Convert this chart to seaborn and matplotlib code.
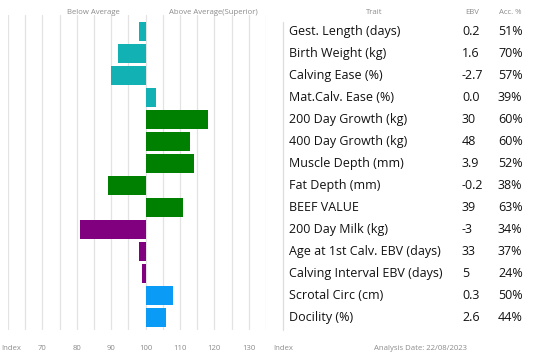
import numpy as np
import pandas as pd
import matplotlib
matplotlib.use("Agg")
import matplotlib.pyplot as plt
import matplotlib.transforms as mtransforms
import seaborn as sns

# Data
traits = ["Gest. Length (days)", "Birth Weight (kg)", "Calving Ease (%)", "Mat.Calv. Ease (%)",
          "200 Day Growth (kg)", "400 Day Growth (kg)", "Muscle Depth (mm)", "Fat Depth (mm)",
          "BEEF VALUE", "200 Day Milk (kg)", "Age at 1st Calv. EBV (days)",
          "Calving Interval EBV (days)", "Scrotal Circ (cm)", "Docility (%)"]
index_values = [98, 92, 90, 103, 118, 113, 114, 89, 111, 81, 98, 99, 108, 106]
ebv = ["0.2", "1.6", "-2.7", "0.0", "30", "48", "3.9", "-0.2", "39", "-3", "33", "5", "0.3", "2.6"]
acc = ["51%", "70%", "57%", "39%", "60%", "60%", "52%", "38%", "63%", "34%", "37%", "24%", "50%", "44%"]
groups = ["calving"] * 4 + ["growth"] * 5 + ["maternal"] * 3 + ["fertility"] * 2
tick_values = [70, 80, 90, 100, 110, 120, 130]
analysis_date = "22/08/2023"

group_colors = {"calving": "#12b2b4", "growth": "#008000", "maternal": "#800080", "fertility": "#0a9bf7"}
base = 100

df = pd.DataFrame({"trait": traits, "dev": np.array(index_values) - base})
palette = {t: group_colors[g] for t, g in zip(traits, groups)}

W, H = 550, 362
fig = plt.figure(figsize=(W / 100, H / 100), dpi=100)
sns.set_style("white")
plt.rcParams["font.family"] = ["Open Sans", "DejaVu Sans"]

def px(x, y):
    return x / W, 1 - y / H

# axes in pixel box: left 8, right 266, top 15, bottom 330
ax = fig.add_axes([8 / W, 1 - 330 / H, (266 - 8) / W, (330 - 15) / H])
sns.barplot(data=df, x="dev", y="trait", hue="trait", palette=palette, legend=False,
            orient="h", width=0.88, saturation=1, linewidth=0, ax=ax, zorder=2)

ax.set_xlim(60 - base, 135 - base)
ax.set_ylim(13 + 12.3 / 22, -16.7 / 22)
for g in range(60, 136, 5):
    ax.axvline(g - base, color="#e3e3e3", lw=0.9, zorder=0)
ax.set_xticks([])
ax.set_yticks([])
ax.set_xlabel("")
ax.set_ylabel("")
for s in ax.spines.values():
    s.set_visible(False)

grey = "#8c8c8c"
small = 5.6
# bottom scale labels
xt = mtransforms.blended_transform_factory(ax.transData, fig.transFigure)
for v in tick_values:
    ax.text(v - base, px(0, 349)[1], str(v), transform=xt, ha="center", va="center",
            fontsize=small, color=grey)
fig.text(*px(1, 349), "Index", ha="left", va="center", fontsize=small, color=grey)
fig.text(*px(283, 349), "Index", ha="center", va="center", fontsize=small, color=grey)
fig.text(*px(420, 349), "Analysis Date: " + analysis_date, ha="center", va="center",
         fontsize=small, color=grey)

# headers
fig.text(*px(93, 13), "Below Average", ha="center", va="center", fontsize=small, color=grey)
fig.text(*px(213, 13), "Above Average(Superior)", ha="center", va="center", fontsize=small, color=grey)
fig.text(*px(374, 12), "Trait", ha="center", va="center", fontsize=small, color=grey)
fig.text(*px(472, 12), "EBV", ha="center", va="center", fontsize=small, color=grey)
fig.text(*px(510, 12), "Acc. %", ha="center", va="center", fontsize=small, color=grey)

# separator
fig.add_artist(plt.Line2D([283 / W, 283 / W], [px(0, 22)[1], px(0, 330)[1]],
                          color="#dddddd", lw=0.9))

# table text aligned with the bar rows
rt = mtransforms.blended_transform_factory(fig.transFigure, ax.transData)
for i, t in enumerate(traits):
    ax.text(289 / W, i, t, transform=rt, ha="left", va="center", fontsize=9, color="#111111")
    ax.text(462 / W, i, ebv[i], transform=rt, ha="left", va="center", fontsize=9, color="#111111")
    ax.text(498 / W, i, acc[i], transform=rt, ha="left", va="center", fontsize=9, color="#111111")

fig.savefig("out.png", dpi=100)
